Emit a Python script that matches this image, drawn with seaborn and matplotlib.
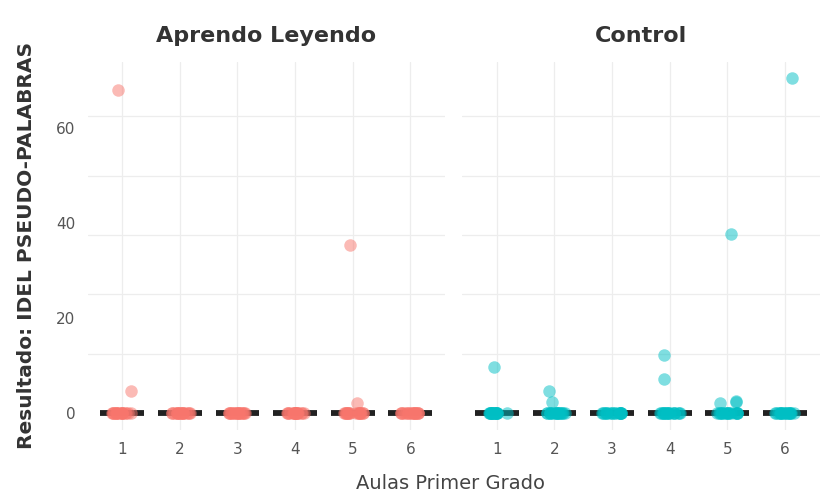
import matplotlib
matplotlib.use("Agg")
import matplotlib.pyplot as plt
from matplotlib.ticker import MultipleLocator, FixedLocator
import seaborn as sns
import pandas as pd

# ---- data ----
grupos = ["Aprendo Leyendo", "Control"]
aulas = ["1", "2", "3", "4", "5", "6"]
n_ceros = 18
aprendo_extra = {"1": [68, 4.7], "2": [], "3": [], "4": [], "5": [35.5, 2.2], "6": []}
control_extra = {"1": [9.7], "2": [4.7, 2.3], "3": [], "4": [7.2, 12.3],
                 "5": [37.7, 2.4, 2.2, 2.5], "6": [70.5]}
colores = {"Aprendo Leyendo": "#F8766D", "Control": "#00BFC4"}
y_ticks = [0, 20, 40, 60]

rows = []
for g, extra in zip(grupos, [aprendo_extra, control_extra]):
    for a in aulas:
        for v in [0.0] * n_ceros + list(extra[a]):
            rows.append({"grupo": g, "aula": a, "valor": v})
df = pd.DataFrame(rows)

sns.set_theme(style="whitegrid")
plt.rcParams["font.family"] = ["DejaVu Sans"]

fig = plt.figure(figsize=(8.27, 4.98), dpi=100)
axes = [fig.add_axes([0.106, 0.137, 0.432, 0.739]),
        fig.add_axes([0.559, 0.137, 0.432, 0.739])]

for ax, g in zip(axes, grupos):
    sub = df[df.grupo == g]
    sns.boxplot(data=sub, x="aula", y="valor", order=aulas, ax=ax, width=0.76,
                showfliers=False, showcaps=False,
                boxprops=dict(facecolor="none", edgecolor="#222222", linewidth=0),
                whiskerprops=dict(linewidth=0),
                medianprops=dict(color="#222222", linewidth=4.2, solid_capstyle="butt"),
                zorder=2)
    sns.stripplot(data=sub, x="aula", y="valor", order=aulas, ax=ax,
                  color=colores[g], alpha=0.5, size=9, jitter=0.18,
                  linewidth=0, zorder=3)
    ax.set_ylim(-3.5, 74)
    ax.set_xlim(-0.6, 5.6)
    ax.set_facecolor("white")
    for s in ax.spines.values():
        s.set_visible(False)
    ax.yaxis.set_major_locator(FixedLocator(y_ticks))
    ax.yaxis.set_minor_locator(MultipleLocator(12.5))
    ax.grid(False, which="major", axis="y")
    ax.grid(True, which="minor", axis="y", color="#EDEDED", linewidth=0.9)
    ax.grid(True, which="major", axis="x", color="#EDEDED", linewidth=0.9)
    ax.tick_params(axis="both", which="both", length=0, labelsize=11,
                   labelcolor="#555555", pad=9)
    ax.set_xlabel("")
    ax.set_ylabel("")
    ax.set_title(g, fontsize=16, fontweight="bold", color="#333333", pad=14)
    ax.set_axisbelow(True)

axes[1].set_yticklabels([])
axes[0].set_ylabel("Resultado: IDEL PSEUDO-PALABRAS", fontsize=14.5,
                   fontweight="bold", color="#333333", labelpad=14)
fig.text(0.545, 0.03, "Aulas Primer Grado", ha="center", va="center",
         fontsize=14, color="#444444")

fig.savefig("out.png", dpi=100, facecolor="white")
